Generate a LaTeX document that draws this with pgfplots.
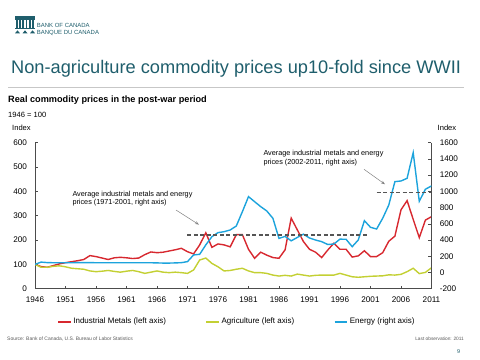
\documentclass[border=0pt]{standalone}
\usepackage{pgfplots}
\usepackage{pgfplotstable}
\pgfplotsset{compat=1.18}
\usetikzlibrary{arrows.meta}
\usepackage{fontspec}
\setmainfont{Liberation Sans}
\definecolor{metal}{HTML}{D7282F}
\definecolor{agri}{HTML}{C3D033}
\definecolor{energy}{HTML}{1CA3DC}
\definecolor{bocteal}{HTML}{1F5E6C}
\definecolor{dashgray}{HTML}{555555}

\pgfplotstableread{
year metal agri energy
1946 100 100 100
1947 91 88 128
1948 88 88 122
1949 95 92 120
1950 102 94 120
1951 107 90 120
1952 111 84 120
1953 115 82 122
1954 120 80 122
1955 136 73 122
1956 132 70 120
1957 126 72 120
1958 120 75 120
1959 127 71 120
1960 129 68 120
1961 127 72 120
1962 124 75 120
1963 126 70 120
1964 140 63 120
1965 151 68 120
1966 148 73 118
1967 150 68 116
1968 155 66 116
1969 160 68 118
1970 166 66 121
1971 152 63 134
1972 143 77 216
1973 180 118 224
1974 230 126 340
1975 170 104 441
1976 184 90 491
1977 180 73 503
1978 172 75 524
1979 222 80 573
1980 222 84 750
1981 162 73 935
1982 125 66 873
1983 150 66 812
1984 138 63 758
1985 128 56 668
1986 125 52 420
1987 160 55 445
1988 290 52 390
1989 242 60 432
1990 194 56 472
1991 162 52 425
1992 150 55 400
1993 128 56 380
1994 159 56 345
1995 187 56 351
1996 162 63 411
1997 162 56 409
1998 130 49 318
1999 135 47 401
2000 156 49 639
2001 132 51 557
2002 132 52 536
2003 148 53 668
2004 195 57 832
2005 216 56 1120
2006 324 59 1128
2007 362 70 1161
2008 285 84 1477
2009 210 62 878
2010 282 67 1026
2011 296 86 1067
}\datatable

\begin{document}
\begin{tikzpicture}
\useasboundingbox (0,0) rectangle (480bp,-360bp);
% logo
\fill[bocteal] (15bp,-15.8bp) rectangle (35bp,-19.5bp);
\foreach \i in {0,...,5} {\fill[bocteal] ({(16+\i*3.2)*1bp},-20.3bp) rectangle ({(17.8+\i*3.2)*1bp},-27.5bp);}
\fill[bocteal] (15bp,-28bp) rectangle (35bp,-29.3bp);
\fill[bocteal] (15bp,-33.3bp) -- (17.5bp,-30.3bp) -- (20bp,-33.3bp) -- cycle;
\fill[bocteal] (22.5bp,-33.3bp) -- (25bp,-30.3bp) -- (27.5bp,-33.3bp) -- cycle;
\fill[bocteal] (30bp,-33.3bp) -- (32.5bp,-30.3bp) -- (35bp,-33.3bp) -- cycle;
\node[anchor=base west, inner sep=0, text=bocteal, font=\fontsize{6}{7}\selectfont] at (36.7bp,-27.3bp) {BANK OF CANADA};
\node[anchor=base west, inner sep=0, text=bocteal, font=\fontsize{6}{7}\selectfont] at (36.7bp,-34bp) {BANQUE DU CANADA};
% title
\node[anchor=base west, inner sep=0, text=bocteal, font=\fontsize{18.3}{20}\selectfont] at (11bp,-73.3bp) {Non-agriculture commodity prices up10-fold since WWII};
\draw[black!22, line width=1.5bp] (8bp,-87.7bp) -- (464bp,-87.7bp);
% subtitles
\node[anchor=base west, inner sep=0, font=\fontsize{9.2}{11}\selectfont\bfseries] at (8bp,-102.7bp) {Real commodity prices in the post-war period};
\node[anchor=base west, inner sep=0, font=\fontsize{7.6}{9}\selectfont] at (8bp,-117bp) {1946 = 100};
\node[anchor=base west, inner sep=0, font=\fontsize{7.6}{9}\selectfont] at (12bp,-130.3bp) {Index};
\node[anchor=base west, inner sep=0, font=\fontsize{7.6}{9}\selectfont] at (437.5bp,-130.3bp) {Index};

\begin{axis}[
  at={(35bp,-288.7bp)}, anchor=south west,
  scale only axis, width=396.5bp, height=146bp,
  xmin=1946, xmax=2011, ymin=0, ymax=600,
  axis x line*=bottom, axis y line*=left,
  axis line style={-, black!70, line width=0.6bp},
  xtick={1946,1951,...,2011}, ytick={0,100,...,600},
  tick align=inside, major tick length=3bp,
  tick style={black!70, line width=0.6bp},
  /pgf/number format/1000 sep={},
  /pgf/number format/assume math mode=true,
  tick label style={font=\fontsize{8.2}{9}\selectfont},
  xticklabel style={yshift=-5bp},
  yticklabel style={xshift=-4.5bp},
  legend columns=3,
  legend cell align=left,
  legend image post style={xscale=0.75, line width=1.9bp},
  legend style={at={(0.0555,-0.226)}, anchor=west, draw=none, fill=none, inner sep=0pt,
    font=\fontsize{8}{9}\selectfont, nodes={inner sep=1.5bp},
    /tikz/every even column/.append style={column sep=38bp}},
]
\addplot[color=metal, line width=1.4bp] table[x=year, y=metal] {\datatable};
\addlegendentry{Industrial Metals (left axis)}
\addplot[color=agri, line width=1.4bp] table[x=year, y=agri] {\datatable};
\addlegendentry{Agriculture (left axis)}
\addlegendimage{color=energy, line width=1.4bp}
\addlegendentry{Energy (right axis)}
\end{axis}

\begin{axis}[
  at={(35bp,-288.7bp)}, anchor=south west,
  scale only axis, width=396.5bp, height=146bp,
  xmin=1946, xmax=2011, ymin=-200, ymax=1600,
  axis x line=none, axis y line*=right,
  axis line style={-, black!70, line width=0.6bp},
  ytick={-200,0,...,1600},
  tick align=inside, major tick length=3bp,
  tick style={black!70, line width=0.6bp},
  /pgf/number format/1000 sep={},
  /pgf/number format/assume math mode=true,
  tick label style={font=\fontsize{8.2}{9}\selectfont},
  yticklabel style={xshift=4.8bp},
]
\addplot[color=energy, line width=1.4bp] table[x=year, y=energy] {\datatable};
\addplot[color=dashgray, line width=1.3bp, dash pattern=on 4bp off 2.5bp] coordinates {(1971,462) (2000.7,462)};
\addplot[color=dashgray, line width=1.3bp, dash pattern=on 4bp off 2.5bp] coordinates {(2002,990) (2011,990)};
\end{axis}

% annotations
\node[anchor=base west, inner sep=0, font=\fontsize{7.3}{9}\selectfont] at (72.3bp,-196bp) {Average industrial metals and energy};
\node[anchor=base west, inner sep=0, font=\fontsize{7.3}{9}\selectfont] at (72.3bp,-204.5bp) {prices (1971-2001, right axis)};
\draw[gray, line width=0.5bp, -{Stealth[length=4bp, width=3bp, open]}] (176bp,-210bp) -- (199bp,-224.7bp);
\node[anchor=base west, inner sep=0, font=\fontsize{7.3}{9}\selectfont] at (263.3bp,-155.5bp) {Average industrial metals and energy};
\node[anchor=base west, inner sep=0, font=\fontsize{7.3}{9}\selectfont] at (263.3bp,-164.5bp) {prices (2002-2011, right axis)};
\draw[gray, line width=0.5bp, -{Stealth[length=4bp, width=3bp, open]}] (364bp,-169.3bp) -- (385bp,-184.3bp);

% footer
\node[anchor=base west, inner sep=0, text=black!65, font=\fontsize{5}{6}\selectfont] at (7bp,-340bp) {Source: Bank of Canada, U.S. Bureau of Labor Statistics};
\node[anchor=base east, inner sep=0, text=black!65, font=\fontsize{4.8}{6}\selectfont] at (464bp,-340bp) {Last observation: 2011};
\node[anchor=base west, inner sep=0, text=bocteal, font=\fontsize{5.5}{6}\selectfont] at (457bp,-353bp) {9};
\end{tikzpicture}
\end{document}
